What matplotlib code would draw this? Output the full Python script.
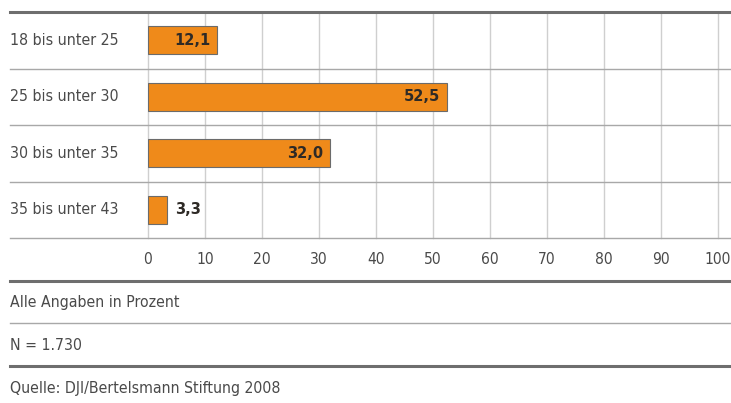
import matplotlib.pyplot as plt
from matplotlib.lines import Line2D

categories = ['18 bis unter 25', '25 bis unter 30', '30 bis unter 35', '35 bis unter 43']
values = [12.1, 52.5, 32.0, 3.3]
value_labels = ['12,1', '52,5', '32,0', '3,3']
xticks = [0, 10, 20, 30, 40, 50, 60, 70, 80, 90, 100]
notes = ['Alle Angaben in Prozent', 'N = 1.730', 'Quelle: DJI/Bertelsmann Stiftung 2008']

plt.rcParams['font.family'] = ['DejaVu Sans']
W, H = 731, 403
fig = plt.figure(figsize=(W / 100, H / 100), dpi=100)

# axes spans pixel x 148..718, y 12..238
x0, x1, ytop, ybot = 148, 718, 12, 238
ax = fig.add_axes([x0 / W, 1 - ybot / H, (x1 - x0) / W, (ybot - ytop) / H])
ax.set_xlim(0, 100)
ax.set_ylim(len(categories) - 0.5, -0.5)
for s in ax.spines.values():
    s.set_visible(False)

txt = '#4a4a4a'
for v in xticks:
    ax.axvline(v, color='#cfcfcf', lw=1.0, zorder=0, clip_on=False)

ax.barh(range(len(values)), values, height=0.5, color='#ef8a1a',
        edgecolor='#6b6b6b', linewidth=0.8, zorder=2)

for i, (v, lab) in enumerate(zip(values, value_labels)):
    if v > 8:
        ax.text(v - 1.2, i, lab, ha='right', va='center', fontsize=10.5,
                fontweight='bold', color='#2e2a26', zorder=3)
    else:
        ax.text(v + 1.5, i, lab, ha='left', va='center', fontsize=10.5,
                fontweight='bold', color='#2e2a26', zorder=3)

ax.set_yticks([])
ax.set_xticks([])

# row labels
for i, c in enumerate(categories):
    fig.text(10 / W, 1 - (ytop + (i + 0.5) * (ybot - ytop) / 4) / H, c,
             ha='left', va='center', fontsize=11.4, color=txt, fontstretch='condensed')

def hline(ypx, lw, col):
    fig.add_artist(Line2D([10 / W, 1], [1 - ypx / H, 1 - ypx / H],
                          color=col, lw=lw, transform=fig.transFigure))

hline(ytop, 2.2, '#6e6e6e')
for k in range(1, 5):
    hline(ytop + k * (ybot - ytop) / 4, 1.0, '#a8a8a8')

for v in xticks:
    fig.text((x0 + v / 100 * (x1 - x0)) / W, 1 - 260 / H, str(v), ha='center',
             va='center', fontsize=11.2, color=txt, fontstretch='condensed')

hline(281, 2.2, '#6e6e6e')
hline(323, 1.0, '#a8a8a8')
hline(366, 2.2, '#6e6e6e')

for ypx, n in zip([303, 345, 388], notes):
    fig.text(10 / W, 1 - ypx / H, n, ha='left', va='center', fontsize=11.3,
             color=txt, fontstretch='condensed')

fig.savefig('out.png', dpi=100)
